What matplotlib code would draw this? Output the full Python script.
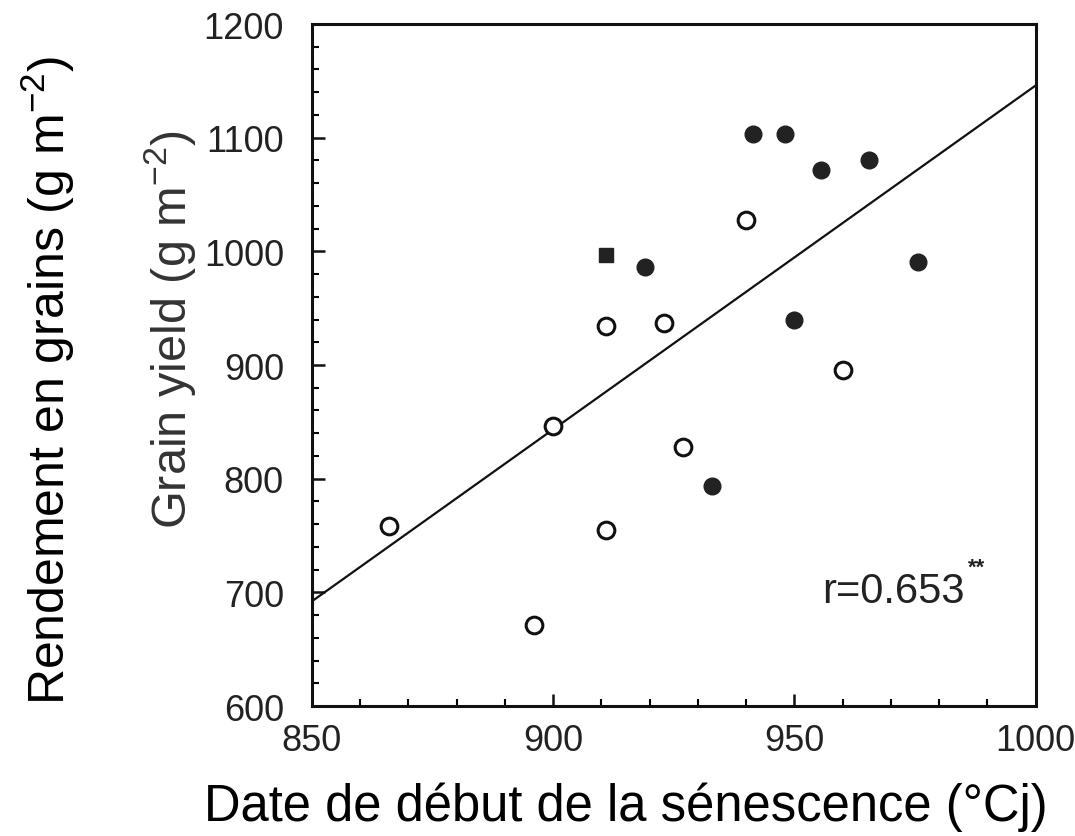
import matplotlib
matplotlib.use("Agg")
import matplotlib.pyplot as plt
from matplotlib.ticker import MultipleLocator

plt.rcParams['font.family'] = ['Liberation Sans', 'DejaVu Sans']
plt.rcParams['mathtext.fontset'] = 'custom'
plt.rcParams['mathtext.rm'] = 'Liberation Sans'
plt.rcParams['mathtext.it'] = 'Liberation Sans'

# Open circles
open_x = [866, 900, 911, 896, 911, 923, 940, 927, 960]
open_y = [758, 846, 755, 671, 934, 937, 1028, 828, 896]
# Filled circles
filled_x = [919, 941.5, 948, 955.5, 965.5, 975.5, 950, 933]
filled_y = [986, 1103, 1103, 1072, 1080, 991, 940, 794]
# Filled square
square_x = [911]
square_y = [997]
# Regression line end points
fit_x = [850, 1000]
fit_y = [692, 1146]

x_ticks = [850, 900, 950, 1000]
y_ticks = [600, 700, 800, 900, 1000, 1100, 1200]

fig = plt.figure(figsize=(10.75, 8.37), dpi=100)
ax = fig.add_axes([0.290, 0.1553, 0.6735, 0.8148])

ax.plot(fit_x, fit_y, color='#111111', lw=1.6, zorder=2)
ax.plot(open_x, open_y, linestyle='none', marker='o', markersize=12,
        markerfacecolor='white', markeredgecolor='#111111', markeredgewidth=2.2, zorder=3)
ax.plot(filled_x, filled_y, linestyle='none', marker='o', markersize=12,
        markerfacecolor='#222222', markeredgecolor='#222222', zorder=3)
ax.plot(square_x, square_y, linestyle='none', marker='s', markersize=10,
        markerfacecolor='#222222', markeredgecolor='#222222', zorder=3)

ax.set_xlim(850, 1000)
ax.set_ylim(600, 1200)
ax.set_xticks(x_ticks)
ax.set_yticks(y_ticks)
ax.xaxis.set_minor_locator(MultipleLocator(10))
ax.yaxis.set_minor_locator(MultipleLocator(20))
ax.tick_params(which='major', direction='in', length=9, width=1.8, labelsize=26,
               colors='#111111', top=False, right=False)
ax.tick_params(which='minor', direction='in', length=5, width=1.5, top=False, right=False)
ax.tick_params(axis='y', which='major', pad=20)
ax.tick_params(axis='x', which='major', pad=12)
for lab in ax.get_xticklabels() + ax.get_yticklabels():
    lab.set_color('#222222')
for s in ax.spines.values():
    s.set_linewidth(2.2)
    s.set_color('#111111')

ax.text(955.8, 701, 'r=0.653', fontsize=30, color='#222222', va='center', ha='left')
ax.text(986, 722, '**', fontsize=16, color='#222222', va='center', ha='left', fontweight='bold')

fig.text(0.158, 0.606, 'Grain yield (g m$^{-2}$)', rotation=90, fontsize=35,
         color='#333333', ha='center', va='center')
fig.text(0.045, 0.545, 'Rendement en grains (g m$^{-2}$)', rotation=90, fontsize=36,
         color='black', ha='center', va='center')
fig.text(0.19, 0.036, 'Date de début de la sénescence (°Cj)', fontsize=36.5,
         color='black', ha='left', va='center')

fig.savefig('out.png', dpi=100, facecolor='white')
